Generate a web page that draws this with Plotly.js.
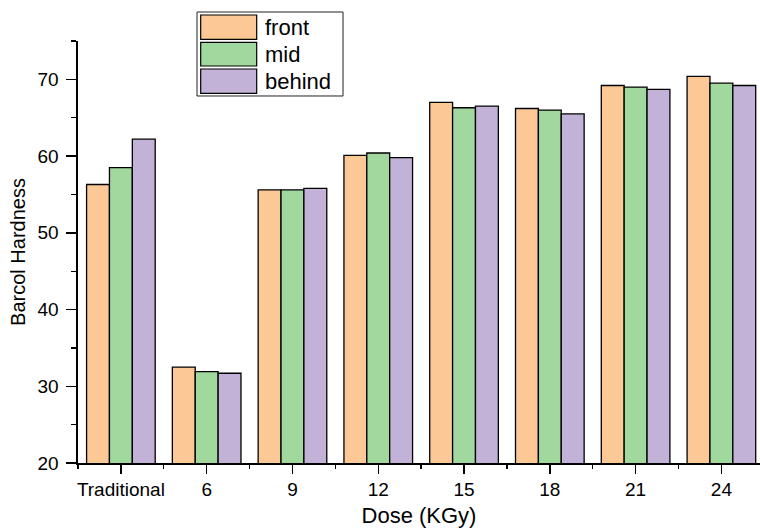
<!DOCTYPE html>
<html>
<head>
<meta charset="utf-8">
<script src="https://cdn.plot.ly/plotly-3.0.1.min.js"></script>
<style>html,body{margin:0;padding:0;background:#fff;}#chart{width:760px;height:528px;}</style>
</head>
<body>
<div id="chart"></div>
<script>
const categories = ["Traditional", "6", "9", "12", "15", "18", "21", "24"];
const seriesNames = ["front", "mid", "behind"];
const front  = [56.3, 32.5, 55.6, 60.1, 67.0, 66.2, 69.2, 70.4];
const mid    = [58.5, 31.9, 55.6, 60.4, 66.3, 66.0, 69.0, 69.5];
const behind = [62.2, 31.7, 55.8, 59.8, 66.5, 65.5, 68.7, 69.2];
const colors = ["#FCC896", "#A0D89D", "#C3B2D7"];

const FONT = "Arial, 'Liberation Sans', sans-serif";
const idx = categories.map((c, i) => i);
const values = [front, mid, behind];

const data = values.map((v, k) => ({
  type: "bar",
  name: seriesNames[k],
  x: idx,
  y: v,
  marker: {color: colors[k], line: {color: "#000", width: 1.3}},
  showlegend: false
}));

// custom legend (large swatches like the reference)
const lg = {x0: 0.1745, x1: 0.3886, y0: 0.8697, y1: 1.0687,
  sx0: 0.1799, sx1: 0.2620, tx: 0.2708,
  rows: [[1.0616, 1.0040], [0.9969, 0.9408], [0.9336, 0.8761]]};
const shapes = [{type: "rect", xref: "paper", yref: "paper", x0: lg.x0, x1: lg.x1, y0: lg.y0, y1: lg.y1,
  line: {color: "#222", width: 1}, fillcolor: "rgba(0,0,0,0)"}];
const annotations = [];
seriesNames.forEach((n, k) => {
  const r = lg.rows[k];
  shapes.push({type: "rect", xref: "paper", yref: "paper", x0: lg.sx0, x1: lg.sx1, y0: r[1], y1: r[0],
    line: {color: "#000", width: 1.2}, fillcolor: colors[k]});
  annotations.push({xref: "paper", yref: "paper", x: lg.tx, y: (r[0] + r[1]) / 2, xanchor: "left", yanchor: "middle",
    text: n, showarrow: false, font: {family: FONT, size: 22, color: "#000"}});
});

const layout = {
  width: 760, height: 528,
  margin: {l: 78, r: 0, t: 41, b: 65},
  paper_bgcolor: "#fff", plot_bgcolor: "#fff",
  font: {family: FONT, color: "#000"},
  barmode: "group", bargap: 0.2, bargroupgap: 0,
  showlegend: false,
  xaxis: {
    range: [-0.5, 7.45], tickmode: "array", tickvals: idx, ticktext: categories,
    showline: true, linecolor: "#000", linewidth: 1.6, showgrid: false, zeroline: false,
    ticks: "outside", ticklen: 9, tickwidth: 1.5, tickcolor: "#000",
    minor: {tickmode: "linear", tick0: 0.5, dtick: 1, ticks: "outside", ticklen: 4, tickwidth: 1.3, tickcolor: "#000", showgrid: false},
    tickfont: {size: 19, family: FONT, color: "#000"},
    title: {text: "Dose (KGy)", font: {size: 22, family: FONT, color: "#000"}, standoff: 8},
    automargin: false
  },
  yaxis: {
    range: [20, 75], tick0: 0, dtick: 10,
    showline: true, linecolor: "#000", linewidth: 1.6, showgrid: false, zeroline: false,
    ticks: "outside", ticklen: 10, tickwidth: 1.5, tickcolor: "#000",
    minor: {tick0: 0, dtick: 5, ticks: "outside", ticklen: 5, tickwidth: 1.3, tickcolor: "#000", showgrid: false},
    tickfont: {size: 19, family: FONT, color: "#000"},
    ticklabelstandoff: 4,
    title: {text: "Barcol Hardness", font: {size: 20, family: FONT, color: "#000"}, standoff: 6},
    automargin: false
  },
  shapes: shapes,
  annotations: annotations
};

Plotly.newPlot("chart", data, layout, {displayModeBar: false, staticPlot: true});
</script>
</body>
</html>
